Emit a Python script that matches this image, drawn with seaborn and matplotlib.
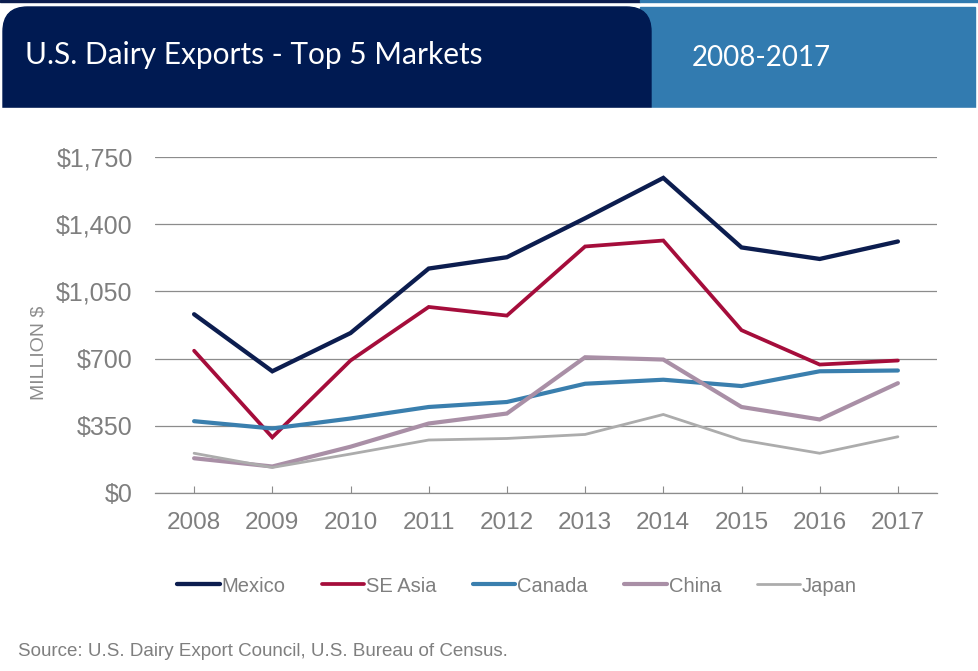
import matplotlib
matplotlib.use("Agg")
import matplotlib.pyplot as plt
import seaborn as sns
import pandas as pd
from matplotlib.patches import Rectangle, FancyBboxPatch

# Data (million $)
years = [2008, 2009, 2010, 2011, 2012, 2013, 2014, 2015, 2016, 2017]
mexico = [931, 634, 833, 1169, 1228, 1431, 1641, 1279, 1219, 1310]
se_asia = [741, 290, 690, 969, 924, 1284, 1315, 848, 669, 690]
canada = [374, 336, 388, 448, 474, 569, 590, 557, 634, 638]
china = [181, 138, 241, 362, 414, 707, 695, 448, 383, 572]
japan = [207, 133, 203, 276, 284, 305, 409, 276, 207, 293]
markets = ["Mexico", "SE Asia", "Canada", "China", "Japan"]
y_ticks = [0, 350, 700, 1050, 1400, 1750]

colors = {"Mexico": "#0c1d4f", "SE Asia": "#a50d3b", "Canada": "#3a7fae",
          "China": "#a98fa6", "Japan": "#acacac"}
widths = {"Mexico": 3.1, "SE Asia": 2.7, "Canada": 3.0, "China": 3.0, "Japan": 2.0}

df = pd.DataFrame({"year": years, "Mexico": mexico, "SE Asia": se_asia,
                   "Canada": canada, "China": china, "Japan": japan})
long = df.melt(id_vars="year", var_name="market", value_name="value")

sns.set_style("white")
plt.rcParams["font.family"] = ["Liberation Sans", "DejaVu Sans"]

W, H = 979, 671
fig = plt.figure(figsize=(W / 100, H / 100), dpi=100)

def fx(x):
    return x / W

def fy(y):
    return 1 - y / H

# header boxes
fig.patches.append(Rectangle((0, fy(2)), fx(640), 2 / H, transform=fig.transFigure,
                             color="#0c1d4f", zorder=0))
fig.patches.append(Rectangle((fx(640), fy(2)), 1 - fx(640), 2 / H, transform=fig.transFigure,
                             color="#327bb0", zorder=0))
fig.patches.append(Rectangle((fx(640), fy(108)), fx(975) - fx(640), 101 / H,
                             transform=fig.transFigure, color="#327bb0", zorder=1))
fig.patches.append(FancyBboxPatch((fx(3), fy(135)), fx(651) - fx(3), 128 / H,
                                  boxstyle="round,pad=0,rounding_size=0.025",
                                  mutation_aspect=W / H,
                                  transform=fig.transFigure, color="#001a52", zorder=2))
fig.patches.append(Rectangle((0, fy(140)), 1, 32 / H, transform=fig.transFigure,
                             color="white", zorder=3))
fig.text(fx(25), fy(55), "U.S. Dairy Exports - Top 5 Markets", color="white",
         fontsize=21.5, family=["Lato", "DejaVu Sans"], va="center", ha="left", zorder=5)
fig.text(fx(692), fy(58), "2008-2017", color="white",
         fontsize=20, family=["Lato", "DejaVu Sans"], va="center", ha="left", zorder=5)

ax = fig.add_axes([fx(155), fy(493), fx(937) - fx(155), (493 - 157) / H])

for m in markets:
    sns.lineplot(data=long[long["market"] == m], x="year", y="value", ax=ax,
                 color=colors[m], linewidth=widths[m], label=m,
                 solid_capstyle="round", solid_joinstyle="miter")

ax.set_xlim(years[0] - 0.5, years[-1] + 0.5)
ax.set_ylim(0, 1750)
ax.set_yticks(y_ticks)
ax.set_yticklabels([f"${v:,}" for v in y_ticks])
ax.set_xticks(years)
ax.yaxis.grid(True, color="#8c8c8c", linewidth=0.9)
ax.set_axisbelow(True)
for s in ["top", "right", "left"]:
    ax.spines[s].set_visible(False)
ax.spines["bottom"].set_color("#8c8c8c")
ax.spines["bottom"].set_linewidth(0.9)
ax.tick_params(axis="y", length=0, pad=16, labelsize=18, labelcolor="#7f7f7f")
ax.tick_params(axis="x", direction="in", length=5, color="#8c8c8c", pad=14,
               labelsize=17.5, labelcolor="#7f7f7f", bottom=True)
ax.set_xlabel("")
ax.set_ylabel("")
fig.text(fx(39), fy(353), "MILLION $", rotation=90, fontsize=14, color="#8c8c8c",
         ha="center", va="center")

leg = ax.legend(loc="center", bbox_to_anchor=(fx(517), fy(586)),
                bbox_transform=fig.transFigure, ncol=5, frameon=False,
                fontsize=14.5, handlelength=2.1, handletextpad=0.1,
                columnspacing=1.8)
for t in leg.get_texts():
    t.set_color("#7f7f7f")

fig.text(fx(18), fy(652), "Source: U.S. Dairy Export Council, U.S. Bureau of Census.",
         fontsize=13.5, color="#7f7f7f", va="center", ha="left")

fig.savefig("out.png", dpi=100)
